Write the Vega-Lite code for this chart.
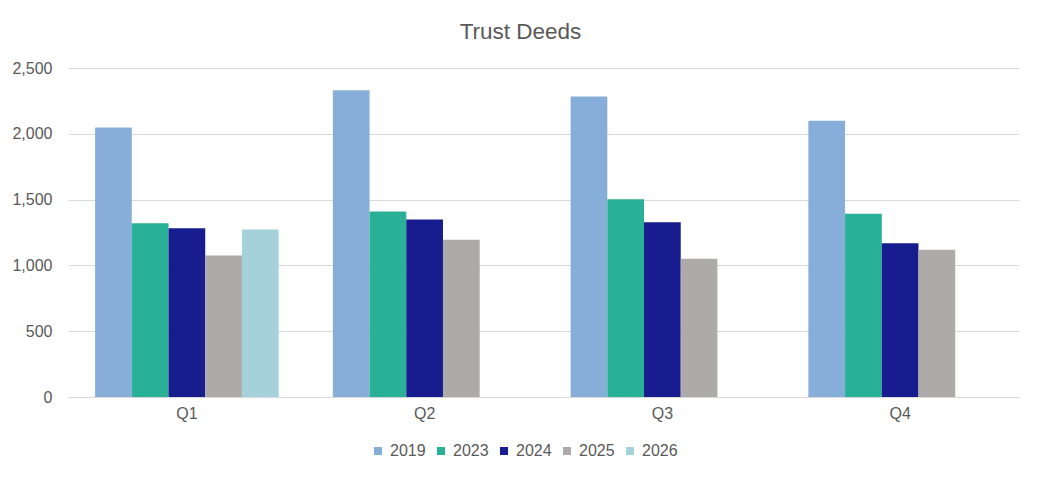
{
  "$schema": "https://vega.github.io/schema/vega-lite/v6.json",
  "width": 951,
  "height": 329,
  "autosize": {"type": "none"},
  "padding": {"left": 68, "top": 68, "right": 21, "bottom": 81},
  "background": "white",
  "title": {
    "text": "Trust Deeds",
    "anchor": "middle",
    "dx": -23,
    "offset": 17,
    "font": "Liberation Sans",
    "fontSize": 22.5,
    "fontWeight": "normal",
    "color": "#595959"
  },
  "data": {
    "values": [
      {"quarter": "Q1", "year": "2019", "deeds": 2048},
      {"quarter": "Q1", "year": "2023", "deeds": 1320},
      {"quarter": "Q1", "year": "2024", "deeds": 1282},
      {"quarter": "Q1", "year": "2025", "deeds": 1076},
      {"quarter": "Q1", "year": "2026", "deeds": 1272},
      {"quarter": "Q2", "year": "2019", "deeds": 2330},
      {"quarter": "Q2", "year": "2023", "deeds": 1409},
      {"quarter": "Q2", "year": "2024", "deeds": 1348},
      {"quarter": "Q2", "year": "2025", "deeds": 1195},
      {"quarter": "Q3", "year": "2019", "deeds": 2284},
      {"quarter": "Q3", "year": "2023", "deeds": 1503},
      {"quarter": "Q3", "year": "2024", "deeds": 1327},
      {"quarter": "Q3", "year": "2025", "deeds": 1051},
      {"quarter": "Q4", "year": "2019", "deeds": 2099},
      {"quarter": "Q4", "year": "2023", "deeds": 1393},
      {"quarter": "Q4", "year": "2024", "deeds": 1168},
      {"quarter": "Q4", "year": "2025", "deeds": 1119}
    ]
  },
  "mark": {"type": "bar"},
  "encoding": {
    "x": {
      "field": "quarter",
      "type": "nominal",
      "scale": {"paddingInner": 0.228, "paddingOuter": 0.114},
      "axis": {
        "title": null,
        "labelAngle": 0,
        "ticks": false,
        "domainColor": "#d9d9d9",
        "labelPadding": 8,
        "labelFont": "Liberation Sans",
        "labelFontSize": 16,
        "labelColor": "#595959"
      }
    },
    "xOffset": {"field": "year", "type": "nominal"},
    "y": {
      "field": "deeds",
      "type": "quantitative",
      "scale": {"domain": [0, 2500]},
      "axis": {
        "title": null,
        "values": [0, 500, 1000, 1500, 2000, 2500],
        "format": ",.0f",
        "domain": false,
        "ticks": false,
        "gridColor": "#d9d9d9",
        "labelPadding": 16,
        "labelFont": "Liberation Sans",
        "labelFontSize": 16,
        "labelColor": "#595959"
      }
    },
    "color": {
      "field": "year",
      "type": "nominal",
      "scale": {
        "domain": ["2019", "2023", "2024", "2025", "2026"],
        "range": ["#87aed8", "#28b196", "#171c8e", "#afaaaa", "#a4d1da"]
      },
      "legend": {
        "title": null,
        "orient": "none",
        "direction": "horizontal",
        "legendX": 302,
        "legendY": 375,
        "symbolType": "square",
        "symbolSize": 64,
        "symbolStrokeWidth": 0,
        "symbolOpacity": 1,
        "labelOffset": 4,
        "columnPadding": 7,
        "labelFont": "Liberation Sans",
        "labelFontSize": 16,
        "labelColor": "#595959"
      }
    }
  },
  "config": {
    "view": {"stroke": null}
  }
}
